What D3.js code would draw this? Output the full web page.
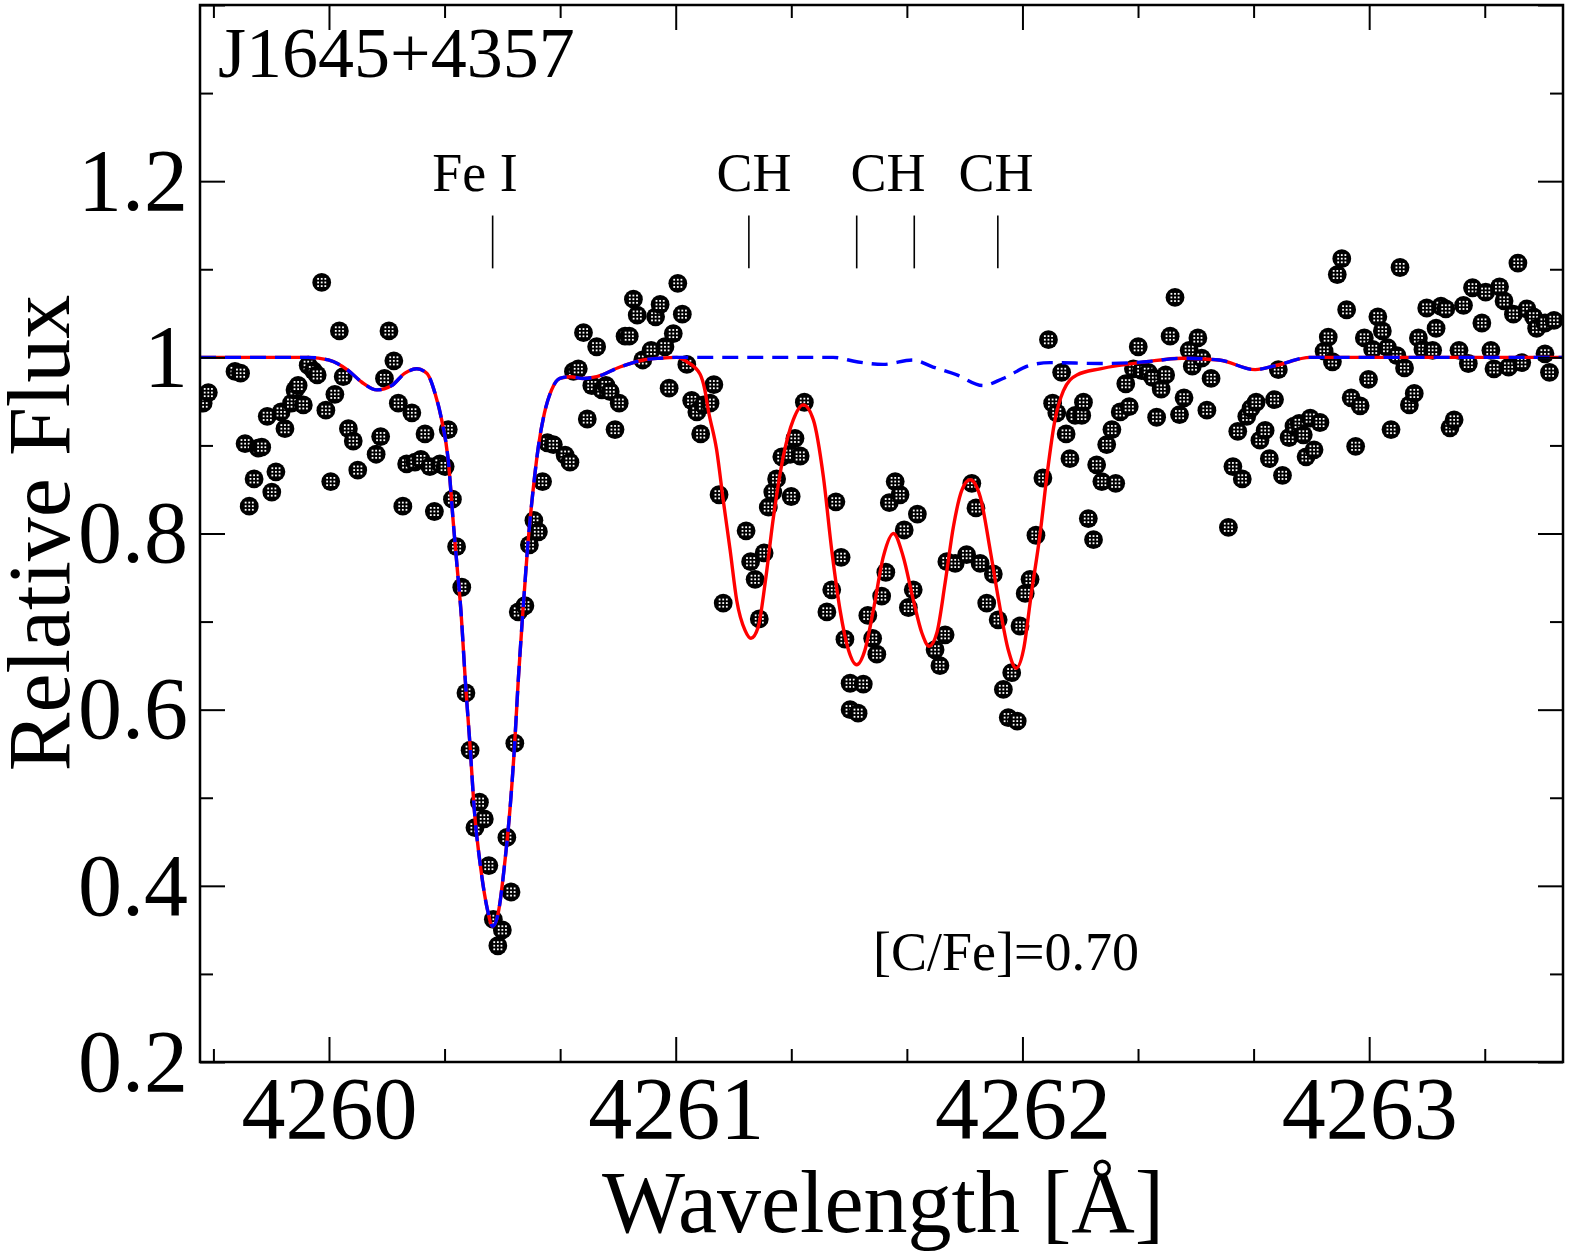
<!DOCTYPE html>
<html>
<head>
<meta charset="utf-8">
<script src="https://cdn.jsdelivr.net/npm/d3@7"></script>
<style>
body { margin: 0; background: #fff; }
svg text { font-family: "Liberation Serif", "Times New Roman", serif; fill: #000; }
</style>
</head>
<body>
<script>
// observed spectrum (wavelength in A, relative flux)
var obsWave = [
4259.637,4259.652,4259.729,4259.745,4259.758,4259.770,4259.784,4259.796,4259.806,4259.822,
4259.835,4259.847,4259.862,4259.873,4259.892,4259.902,4259.911,4259.926,4259.940,4259.955,
4259.966,4259.979,4259.991,4260.005,4260.017,4260.030,4260.041,4260.056,4260.070,4260.083,
4260.136,4260.149,4260.160,4260.173,4260.187,4260.200,4260.213,4260.224,4260.239,4260.248,
4260.265,4260.277,4260.291,4260.304,4260.320,4260.335,4260.344,4260.356,4260.368,4260.383,
4260.395,4260.407,4260.421,4260.434,4260.448,4260.461,4260.474,4260.487,4260.500,4260.513,
4260.525,4260.536,4260.546,4260.565,4260.578,4260.591,4260.604,4260.616,4260.630,4260.647,
4260.681,4260.695,4260.705,4260.719,4260.734,4260.745,4260.758,4260.772,4260.787,4260.799,
4260.811,4260.825,4260.837,4260.854,4260.866,4260.878,4260.889,4260.905,4260.929,4260.942,
4260.955,4260.969,4260.981,4260.993,4261.006,4261.019,4261.032,4261.046,4261.061,4261.072,
4261.080,4261.099,4261.110,4261.125,4261.137,4261.203,4261.216,4261.229,4261.241,4261.255,
4261.267,4261.280,4261.291,4261.306,4261.330,4261.333,4261.344,4261.359,4261.371,4261.436,
4261.450,4261.462,4261.477,4261.488,4261.503,4261.503,4261.526,4261.541,4261.554,4261.568,
4261.580,4261.594,4261.606,4261.616,4261.633,4261.647,4261.659,4261.671,4261.685,4261.697,
4261.748,4261.762,4261.777,4261.782,4261.806,4261.839,4261.854,4261.866,4261.878,4261.897,
4261.916,4261.930,4261.945,4261.959,4261.969,4261.985,4261.993,4262.008,4262.022,4262.039,
4262.059,4262.075,4262.087,4262.099,4262.113,4262.126,4262.137,4262.152,4262.171,4262.176,
4262.190,4262.205,4262.214,4262.229,4262.243,4262.258,4262.269,4262.282,4262.298,4262.308,
4262.320,4262.334,4262.344,4262.363,4262.376,4262.387,4262.400,4262.413,4262.426,4262.440,
4262.453,4262.466,4262.481,4262.490,4262.506,4262.517,4262.532,4262.544,4262.594,4262.607,
4262.621,4262.634,4262.647,4262.659,4262.674,4262.685,4262.700,4262.712,4262.727,4262.738,
4262.750,4262.769,4262.783,4262.798,4262.810,4262.818,4262.830,4262.841,4262.858,4262.870,
4262.882,4262.894,4262.908,4262.921,4262.935,4262.948,4262.961,4262.974,4262.986,4262.998,
4263.010,4263.025,4263.038,4263.053,4263.063,4263.080,4263.089,4263.102,4263.116,4263.130,
4263.142,4263.155,4263.166,4263.183,4263.193,4263.207,4263.221,4263.233,4263.245,4263.259,
4263.272,4263.286,4263.298,4263.325,4263.336,4263.351,4263.360,4263.376,4263.389,4263.402,
4263.416,4263.429,4263.440,4263.455,4263.474,4263.483,4263.507,4263.507,4263.520,4263.533
];
var obsFlux = [
0.948,0.960,0.984,0.982,0.902,0.831,0.862,0.897,0.898,0.933,
0.847,0.870,0.938,0.919,0.948,0.963,0.968,0.946,0.991,0.985,
0.980,1.085,0.940,0.859,0.958,1.030,0.978,0.919,0.905,0.872,
0.890,0.910,0.976,1.030,0.996,0.948,0.831,0.879,0.937,0.881,
0.884,0.913,0.876,0.825,0.879,0.876,0.918,0.839,0.785,0.739,
0.619,0.554,0.466,0.495,0.476,0.423,0.362,0.332,0.350,0.455,
0.393,0.562,0.711,0.718,0.787,0.815,0.802,0.859,0.903,0.901,
0.889,0.881,0.984,0.987,1.028,0.930,0.968,1.012,0.963,0.968,
0.961,0.918,0.948,1.024,1.024,1.066,1.048,0.997,1.008,1.046,
1.060,1.012,0.965,1.027,1.084,1.049,0.992,0.951,0.938,0.913,
0.946,0.948,0.969,0.844,0.721,0.803,0.768,0.748,0.703,0.778,
0.830,0.847,0.862,0.887,0.890,0.842,0.908,0.888,0.949,0.711,
0.736,0.836,0.773,0.680,0.630,0.600,0.596,0.629,0.707,0.681,
0.663,0.729,0.756,0.835,0.859,0.844,0.804,0.716,0.736,0.822,
0.668,0.650,0.685,0.768,0.766,0.776,0.857,0.829,0.766,0.721,
0.754,0.702,0.623,0.591,0.642,0.587,0.695,0.732,0.748,0.798,
0.863,1.020,0.948,0.937,0.983,0.913,0.885,0.934,0.934,0.949,
0.817,0.793,0.878,0.859,0.901,0.918,0.857,0.938,0.970,0.944,
0.987,1.012,0.985,0.983,0.977,0.932,0.964,0.980,1.024,1.068,
0.935,0.954,1.008,0.990,1.022,0.999,0.940,0.976,0.807,0.876,
0.916,0.862,0.933,0.942,0.949,0.906,0.917,0.885,0.952,0.986,
0.866,0.909,0.922,0.925,0.912,0.887,0.931,0.895,0.926,1.007,
1.023,0.995,1.094,1.112,1.054,0.954,0.899,0.945,1.022,0.975,
1.009,1.046,1.030,1.011,0.918,1.002,1.102,0.988,0.946,0.959,
1.022,1.009,1.056,1.008,1.033,1.058,1.055,0.920,0.929,1.008,
1.059,0.993,1.079,1.039,1.074,1.008,0.987,1.080,1.064,0.989,
1.049,1.107,0.994,1.055,1.046,1.033,1.039,1.004,0.983,1.042
];

// synthetic spectrum with [C/Fe]=0.70 (red)
var synthC = [
[4259.628,1.000],[4259.940,1.000],[4259.998,0.997],[4260.056,0.985],[4260.094,0.972],
[4260.138,0.963],[4260.181,0.968],[4260.219,0.982],[4260.253,0.987],[4260.282,0.982],
[4260.306,0.959],[4260.325,0.929],[4260.344,0.883],[4260.359,0.810],[4260.370,0.760],
[4260.381,0.710],[4260.393,0.634],[4260.407,0.558],[4260.419,0.487],[4260.438,0.419],
[4260.457,0.373],[4260.472,0.354],[4260.488,0.369],[4260.508,0.430],[4260.522,0.487],
[4260.535,0.558],[4260.546,0.634],[4260.559,0.710],[4260.573,0.785],[4260.592,0.861],
[4260.604,0.899],[4260.621,0.936],[4260.642,0.963],[4260.666,0.976],[4260.695,0.978],
[4260.734,0.976],[4260.772,0.978],[4260.839,0.989],[4260.907,0.997],[4260.955,0.999],
[4261.003,1.000],[4261.032,0.995],[4261.070,0.981],[4261.084,0.963],[4261.094,0.940],
[4261.118,0.895],[4261.137,0.838],[4261.157,0.781],[4261.176,0.724],[4261.200,0.690],
[4261.217,0.681],[4261.238,0.694],[4261.258,0.744],[4261.282,0.819],[4261.310,0.887],
[4261.339,0.929],[4261.368,0.946],[4261.397,0.929],[4261.426,0.864],[4261.450,0.781],
[4261.474,0.713],[4261.498,0.668],[4261.522,0.651],[4261.546,0.668],[4261.570,0.713],
[4261.599,0.774],[4261.628,0.800],[4261.656,0.774],[4261.685,0.725],[4261.710,0.687],
[4261.731,0.672],[4261.753,0.687],[4261.777,0.744],[4261.801,0.808],[4261.825,0.849],
[4261.849,0.861],[4261.878,0.842],[4261.907,0.781],[4261.931,0.725],[4261.959,0.668],
[4261.982,0.647],[4262.003,0.668],[4262.025,0.730],[4262.051,0.800],[4262.072,0.870],
[4262.092,0.925],[4262.118,0.962],[4262.157,0.980],[4262.224,0.987],[4262.357,0.995],
[4262.460,0.999],[4262.567,0.997],[4262.671,0.986],[4262.734,0.991],[4262.830,1.000],
[4263.559,1.000]
];

// synthetic spectrum without carbon enhancement (blue dashed)
var synthNoC = [
[4259.628,1.000],[4259.940,1.000],[4259.998,0.997],[4260.056,0.985],[4260.094,0.972],
[4260.138,0.963],[4260.181,0.968],[4260.219,0.982],[4260.253,0.987],[4260.282,0.982],
[4260.306,0.959],[4260.325,0.929],[4260.344,0.883],[4260.359,0.810],[4260.370,0.760],
[4260.381,0.710],[4260.393,0.634],[4260.407,0.558],[4260.419,0.487],[4260.438,0.419],
[4260.457,0.373],[4260.472,0.354],[4260.488,0.369],[4260.508,0.430],[4260.522,0.487],
[4260.535,0.558],[4260.546,0.634],[4260.559,0.710],[4260.573,0.785],[4260.592,0.861],
[4260.604,0.899],[4260.621,0.936],[4260.642,0.963],[4260.666,0.976],[4260.695,0.978],
[4260.734,0.976],[4260.772,0.978],[4260.839,0.989],[4260.907,0.997],[4260.955,0.999],
[4261.003,1.000],[4261.214,1.000],[4261.454,1.000],[4261.522,0.995],[4261.598,0.992],
[4261.684,0.997],[4261.742,0.989],[4261.811,0.980],[4261.886,0.968],[4261.944,0.976],
[4262.022,0.991],[4262.080,0.994],[4262.224,0.993],[4262.357,0.995],[4262.460,0.999],
[4262.567,0.997],[4262.671,0.986],[4262.734,0.991],[4262.830,1.000],[4263.559,1.000]
];

// line identifications
var lineWave = [4260.472, 4261.211, 4261.522, 4261.688, 4261.929];
var labelText = ['Fe I', 'CH', 'CH', 'CH'];
var labelWave = [4260.421, 4261.226, 4261.612, 4261.924];

var xMajor = [4260, 4261, 4262, 4263];
var yMajor = [0.2, 0.4, 0.6, 0.8, 1.0, 1.2, 1.4];
var yLabels = ['0.2', '0.4', '0.6', '0.8', '1', '1.2', ''];

var W = 1569, H = 1255;
var padL = 200, padR = 1563, padT = 5, padB = 1062;

var svg = d3.select('body')
    .append('svg')
    .attr('width', W)
    .attr('height', H);

var x = d3.scaleLinear().domain([4259.628, 4263.559]).range([padL, padR]);
var y = d3.scaleLinear().domain([0.2, 1.4]).range([padB, padT]);

var xMinor = d3.range(4259 + 2 / 3, 4263.56, 1 / 3)
    .filter(function(d) { return Math.abs(d - Math.round(d)) > 0.01; });
var yMinor = [0.3, 0.5, 0.7, 0.9, 1.1, 1.3];

var defs = svg.append('defs');
defs.append('clipPath').attr('id', 'plotclip')
    .append('rect')
    .attr('x', padL).attr('y', padT)
    .attr('width', padR - padL).attr('height', padB - padT);

// textured marker: black disc with a grid of white dots
var mk = defs.append('g').attr('id', 'mk');
mk.append('circle').attr('r', 9.4).attr('fill', '#000');
[-3.6, 0, 3.6].forEach(function(cx) {
    [-3.6, 0, 3.6].forEach(function(cy) {
        mk.append('rect')
            .attr('x', cx - 0.9).attr('y', cy - 0.9)
            .attr('width', 1.8).attr('height', 1.8)
            .attr('fill', '#fff');
    });
});

var plot = svg.append('g').attr('clip-path', 'url(#plotclip)');

plot.selectAll('use.obs')
    .data(d3.range(obsWave.length))
    .enter()
    .append('use')
    .attr('class', 'obs')
    .attr('href', '#mk')
    .attr('x', function(i) { return x(obsWave[i]); })
    .attr('y', function(i) { return y(obsFlux[i]); });

var line = d3.line()
    .x(function(d) { return x(d[0]); })
    .y(function(d) { return y(d[1]); })
    .curve(d3.curveMonotoneX);

plot.append('path')
    .datum(synthC)
    .attr('d', line)
    .attr('fill', 'none')
    .attr('stroke', '#ff0000')
    .attr('stroke-width', 3.4);

plot.append('path')
    .datum(synthNoC)
    .attr('d', line)
    .attr('fill', 'none')
    .attr('stroke', '#0000ff')
    .attr('stroke-width', 3.4)
    .attr('stroke-dasharray', '16,9');

// axes, ticks pointing inwards on all four sides
function addAxis(axis, tr) {
    var g = svg.append('g').attr('transform', tr).call(axis);
    g.select('.domain').remove();
    g.selectAll('.tick line').attr('stroke', '#000').attr('stroke-width', 2);
    g.attr('font-family', null).attr('font-size', null);
    g.selectAll('text').attr('font-size', 88).attr('fill', '#000');
    return g;
}
addAxis(d3.axisBottom(x).tickValues(xMajor).tickSize(-25).tickPadding(14)
    .tickFormat(d3.format('d')), 'translate(0,' + padB + ')');
addAxis(d3.axisBottom(x).tickValues(xMinor).tickSize(-13).tickFormat(''),
    'translate(0,' + padB + ')');
addAxis(d3.axisTop(x).tickValues(xMajor).tickSize(-25).tickFormat(''),
    'translate(0,' + padT + ')');
addAxis(d3.axisTop(x).tickValues(xMinor).tickSize(-13).tickFormat(''),
    'translate(0,' + padT + ')');
addAxis(d3.axisLeft(y).tickValues(yMajor).tickSize(-25).tickPadding(12)
    .tickFormat(function(d, i) { return yLabels[i]; }), 'translate(' + padL + ',0)');
addAxis(d3.axisLeft(y).tickValues(yMinor).tickSize(-13).tickFormat(''),
    'translate(' + padL + ',0)');
addAxis(d3.axisRight(y).tickValues(yMajor).tickSize(-25).tickFormat(''),
    'translate(' + padR + ',0)');
addAxis(d3.axisRight(y).tickValues(yMinor).tickSize(-13).tickFormat(''),
    'translate(' + padR + ',0)');

svg.append('rect')
    .attr('x', padL).attr('y', padT)
    .attr('width', padR - padL).attr('height', padB - padT)
    .attr('fill', 'none')
    .attr('stroke', '#000')
    .attr('stroke-width', 2.5);

// line markers and labels
svg.selectAll('line.ident')
    .data(lineWave)
    .enter()
    .append('line')
    .attr('class', 'ident')
    .attr('x1', function(d) { return x(d); })
    .attr('x2', function(d) { return x(d); })
    .attr('y1', y(1.161))
    .attr('y2', y(1.101))
    .attr('stroke', '#000')
    .attr('stroke-width', 1.6);

svg.selectAll('text.ident')
    .data(labelText)
    .enter()
    .append('text')
    .attr('class', 'ident')
    .attr('x', function(d, i) { return x(labelWave[i]); })
    .attr('y', y(1.189))
    .attr('text-anchor', 'middle')
    .attr('font-size', 54)
    .text(function(d) { return d; });

svg.append('text')
    .attr('x', 218)
    .attr('y', 77)
    .attr('font-size', 72)
    .text('J1645+4357');

svg.append('text')
    .attr('x', 1006)
    .attr('y', 970)
    .attr('text-anchor', 'middle')
    .attr('font-size', 54)
    .text('[C/Fe]=0.70');

// axis titles
svg.append('text')
    .attr('x', 883)
    .attr('y', 1232)
    .attr('text-anchor', 'middle')
    .attr('font-size', 88)
    .text('Wavelength [\u00C5]');

svg.append('text')
    .attr('transform', 'translate(69,533) rotate(-90)')
    .attr('text-anchor', 'middle')
    .attr('font-size', 88)
    .text('Relative Flux');
</script>
</body>
</html>
